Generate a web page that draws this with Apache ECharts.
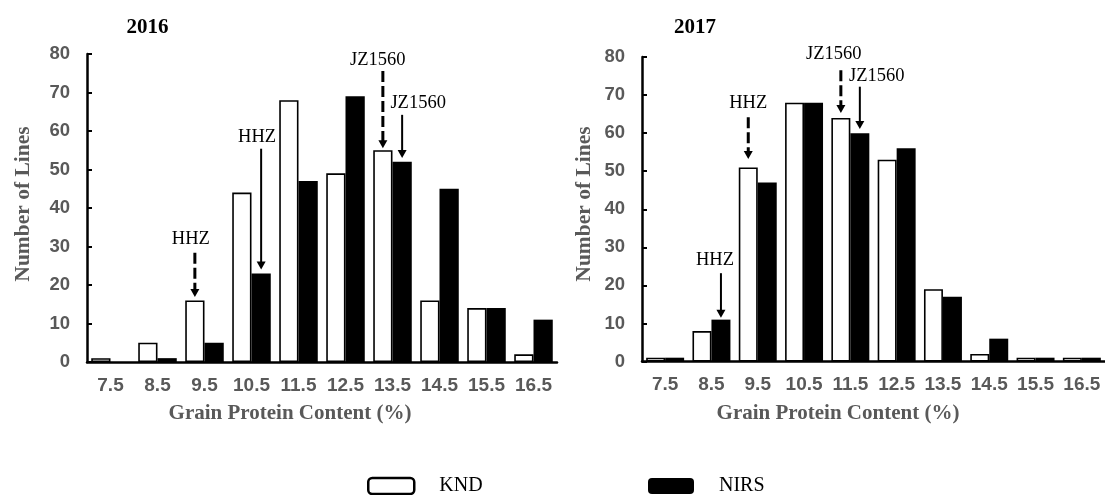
<!DOCTYPE html>
<html>
<head>
<meta charset="utf-8">
<script src="https://cdn.jsdelivr.net/npm/echarts@6/dist/echarts.min.js"></script>
<style>
  html, body { margin: 0; padding: 0; background: #fff; }
  #chart { width: 1105px; height: 495px; }
</style>
</head>
<body>
<div id="chart"></div>
<script>
// ---------- data ----------
const categories = ['7.5', '8.5', '9.5', '10.5', '11.5', '12.5', '13.5', '14.5', '15.5', '16.5'];
const knd2016  = [1, 5, 16, 44, 68, 49, 55, 16, 14, 2];
const nirs2016 = [0, 1, 5, 23, 47, 69, 52, 45, 14, 11];
const knd2017  = [1, 8, 51, 68, 64, 53, 19, 2, 1, 1];
const nirs2017 = [1, 11, 47, 68, 60, 56, 17, 6, 1, 1];
const yMin = 0, yMax = 80, yStep = 10;
const panelTitles = ['2016', '2017'];
const yTitle = 'Number of Lines';
const xTitle = 'Grain Protein Content (%)';
const seriesNames = ['KND', 'NIRS'];

// annotations: which bar, label, and the value levels of label / arrow start / arrow tip
const notes2016 = [
  { series: 'KND',  cat: '9.5',  label: 'HHZ',    labelAt: 32.0, from: 28.4, to: 16.9, dashed: true },
  { series: 'NIRS', cat: '10.5', label: 'HHZ',    labelAt: 58.4, from: 55.4, to: 24.0, dashed: false },
  { series: 'KND',  cat: '13.5', label: 'JZ1560', labelAt: 78.4, from: 75.6, to: 55.5, dashed: true },
  { series: 'NIRS', cat: '13.5', label: 'JZ1560', labelAt: 67.3, from: 64.2, to: 53.0, dashed: false }
];
const notes2017 = [
  { series: 'KND',  cat: '9.5',  label: 'HHZ',    labelAt: 67.8, from: 64.2, to: 53.2, dashed: true },
  { series: 'NIRS', cat: '8.5',  label: 'HHZ',    labelAt: 26.5, from: 23.2, to: 11.5, dashed: false },
  { series: 'KND',  cat: '11.5', label: 'JZ1560', labelAt: 80.8, from: 76.5, to: 65.3, dashed: true },
  { series: 'NIRS', cat: '11.5', label: 'JZ1560', labelAt: 74.9, from: 72.2, to: 61.1, dashed: false }
];
// horizontal shift of each annotation label relative to its arrow (px)
const labelShift2016 = [-4, -4, -5, 16];
const labelShift2017 = [0, -6, -7, 17];

// ---------- styling ----------
const SERIF = '"Liberation Serif", "Times New Roman", serif';
const SANS = '"Liberation Sans", Arial, sans-serif';
const GRAY = '#595959';
const CAT_GAP = 0.18;

const chart = echarts.init(document.getElementById('chart'), null, { renderer: 'canvas' });

function yAxisCfg(gi) {
  return {
    type: 'value', gridIndex: gi, min: yMin, max: yMax, interval: yStep,
    axisLine: { show: true, lineStyle: { color: '#000', width: 2.5 } },
    axisTick: { show: true, inside: true, length: 5, lineStyle: { color: '#000', width: 2 } },
    axisLabel: { color: GRAY, fontFamily: SANS, fontWeight: 'bold', fontSize: 18.5, margin: 17 },
    splitLine: { show: false }
  };
}
function xAxisCfg(gi) {
  return {
    type: 'category', gridIndex: gi, data: categories,
    axisLine: { show: true, lineStyle: { color: '#000', width: 2.5 } },
    axisTick: { show: false },
    axisLabel: { color: GRAY, fontFamily: SANS, fontWeight: 'bold', fontSize: 19, margin: 14, interval: 0 },
    splitLine: { show: false }
  };
}
function barSeries(name, gi, data) {
  const isKnd = name === 'KND';
  return {
    name, type: 'bar', xAxisIndex: gi, yAxisIndex: gi, data,
    barGap: '0%', barCategoryGap: (CAT_GAP * 100) + '%',
    itemStyle: isKnd ? { color: '#fff', borderColor: '#000', borderWidth: 1.6 }
                     : { color: '#000', borderColor: '#000', borderWidth: 0 },
    emphasis: { disabled: true }
  };
}

const legendText = { fontFamily: SERIF, fontSize: 20, color: '#000' };
const legendFmt = name => '\u2002\u2002' + name;
chart.setOption({
  animation: false,
  backgroundColor: '#fff',
  grid: [
    { left: 87, top: 54, width: 470, height: 308 },
    { left: 642, top: 57, width: 467, height: 304.5 }
  ],
  xAxis: [xAxisCfg(0), xAxisCfg(1)],
  yAxis: [yAxisCfg(0), yAxisCfg(1)],
  legend: [
    { data: [seriesNames[0]], left: 362, top: 471, itemWidth: 46, itemHeight: 16, selectedMode: false,
      itemStyle: { borderWidth: 2.5 }, textStyle: legendText, formatter: legendFmt },
    { data: [seriesNames[1]], left: 643, top: 471, itemWidth: 46, itemHeight: 16, selectedMode: false,
      textStyle: legendText, formatter: legendFmt }
  ],
  series: [
    barSeries('KND', 0, knd2016),
    barSeries('NIRS', 0, nirs2016),
    barSeries('KND', 1, knd2017),
    barSeries('NIRS', 1, nirs2017)
  ]
});

// ---------- annotations & texts ----------
function buildNotes(gi, notes, shifts) {
  const els = [];
  const c0 = chart.convertToPixel({ xAxisIndex: gi }, categories[0]);
  const c1 = chart.convertToPixel({ xAxisIndex: gi }, categories[1]);
  const group = (c1 - c0) * (1 - CAT_GAP);
  notes.forEach((n, i) => {
    const cx = chart.convertToPixel({ xAxisIndex: gi }, n.cat);
    const x = cx + (n.series === 'KND' ? -group / 4 : group / 4);
    const yLab = chart.convertToPixel({ yAxisIndex: gi }, n.labelAt);
    const yFrom = chart.convertToPixel({ yAxisIndex: gi }, n.from);
    const yTo = chart.convertToPixel({ yAxisIndex: gi }, n.to);
    const headH = 8, headW = 9;
    els.push({
      type: 'line', silent: true,
      shape: { x1: x, y1: yFrom, x2: x, y2: yTo - headH + 1 },
      style: { stroke: '#000', lineWidth: n.dashed ? 3 : 2, lineDash: n.dashed ? [11, 4] : null }
    });
    els.push({
      type: 'polygon', silent: true,
      shape: { points: [[x - headW / 2, yTo - headH], [x + headW / 2, yTo - headH], [x, yTo]] },
      style: { fill: '#000' }
    });
    els.push({
      type: 'text', silent: true,
      style: { text: n.label, x: x + shifts[i], y: yLab, align: 'center', verticalAlign: 'middle',
               fill: '#000', font: '18.5px ' + SERIF }
    });
  });
  return els;
}

const graphics = [];
graphics.push(...buildNotes(0, notes2016, labelShift2016));
graphics.push(...buildNotes(1, notes2017, labelShift2017));
// panel titles
[[147.5, 28], [695, 28]].forEach((p, i) => graphics.push({
  type: 'text', silent: true,
  style: { text: panelTitles[i], x: p[0], y: p[1], align: 'center', verticalAlign: 'middle',
           fill: '#000', font: 'bold 21px ' + SERIF }
}));
// y titles
[[23.5, 204], [584, 204]].forEach(p => graphics.push({
  type: 'text', silent: true, x: p[0], y: p[1], rotation: Math.PI / 2,
  style: { text: yTitle, x: 0, y: 0, align: 'center', verticalAlign: 'middle',
           fill: GRAY, font: 'bold 21.5px ' + SERIF }
}));
// x titles
[[290, 414], [838, 414]].forEach(p => graphics.push({
  type: 'text', silent: true,
  style: { text: xTitle, x: p[0], y: p[1], align: 'center', verticalAlign: 'middle',
           fill: GRAY, font: 'bold 21px ' + SERIF }
}));

chart.setOption({ graphic: { elements: graphics } });
</script>
</body>
</html>
